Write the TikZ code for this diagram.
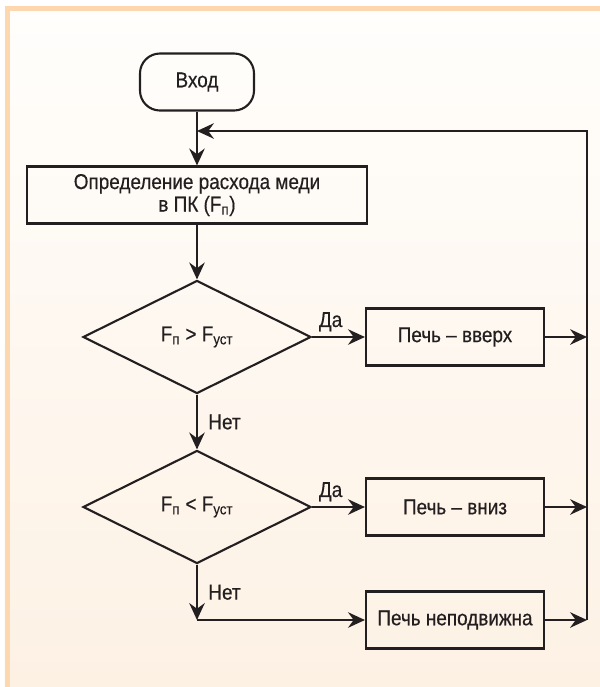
\documentclass[tikz,border=0pt]{standalone}
\usepackage{fontspec}
\setmainfont[FakeStretch=0.88,FakeBold=0.4]{Liberation Sans}
\usetikzlibrary{shapes.geometric,arrows.meta}
\definecolor{frame}{RGB}{253,216,175}
\definecolor{paperTop}{RGB}{255,254,252}
\definecolor{paperBot}{RGB}{253,241,228}
\definecolor{ink}{RGB}{35,31,32}

\begin{document}
\begin{tikzpicture}[x=0.025cm,y=0.025cm,color=ink,line width=1.5pt,
  every node/.style={font=\fontsize{15.3pt}{16pt}\selectfont},
  box/.style={rectangle,draw,minimum width=4.45cm,minimum height=1.425cm,inner sep=0pt},
  test/.style={diamond,draw,minimum width=5.7cm,minimum height=2.825cm,inner sep=0pt},
  flow/.style={-{Stealth[length=12pt,width=11pt,inset=4pt]}}]
% background with frame
\useasboundingbox (0,0) rectangle (600,-687);
\fill[white] (0,0) rectangle (600,-687);
\shade[top color=paperTop,bottom color=paperBot] (5,-6) rectangle (600,-687);
\fill[frame] (5,-6) rectangle (600,-11);
\fill[frame] (5,-6) rectangle (10,-687);

\node[rectangle,draw,rounded corners=0.5cm,minimum width=2.85cm,minimum height=1.425cm] (start) at (197,-82) {Вход};
\node[box,minimum width=8.5cm,align=center] (measure) at (197,-195) {Определение расхода меди\\в ПК (F\textsubscript{п})};
\node[test] (more) at (197,-337) {F\textsubscript{п} > F\textsubscript{уст}};
\node[test] (less) at (197,-507) {F\textsubscript{п} < F\textsubscript{уст}};
\node[box] (up) at (455,-337) {Печь – вверх};
\node[box] (down) at (455,-507) {Печь – вниз};
\node[box] (hold) at (455,-620) {Печь неподвижна};
\coordinate (merge) at (197,-131);
\coordinate (loop) at (587,-131);
\coordinate (corner) at (197,-620);

\draw[flow] (start) -- (measure);
\draw[flow] (measure) -- (more);
\draw[flow] (more) -- node[above,pos=0.35] {Да} (up);
\draw[flow] (more) -- node[right=4pt] {Нет} (less);
\draw[flow] (less) -- node[above,pos=0.35] {Да} (down);
\draw[flow] (less) -- node[right=4pt] {Нет} (corner);
\draw[flow] (corner) -- (hold);
% back to the top
\foreach \b in {up,down,hold}
  \draw[flow] (\b) -- (\b -| loop);
\draw[flow] (hold -| loop) -- (loop) -- (merge);
\end{tikzpicture}
\end{document}
